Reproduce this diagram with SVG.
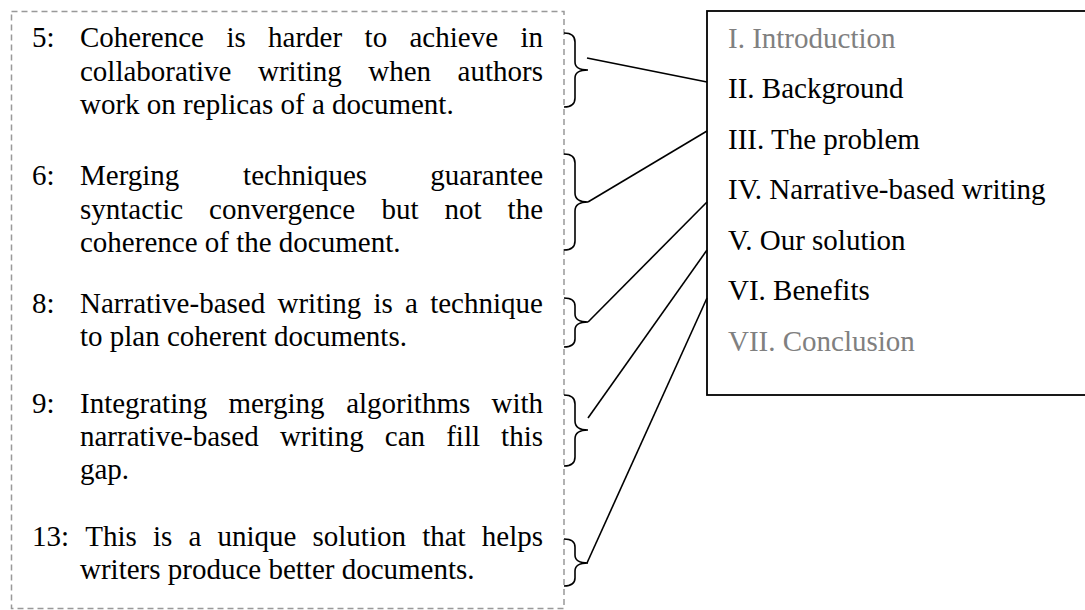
<svg xmlns="http://www.w3.org/2000/svg" width="1085" height="610" viewBox="0 0 1085 610">
<style>
text{font-family:"Liberation Serif","Times New Roman",serif;font-size:29px;fill:#000}
.gray{fill:#808080}
.brace{fill:none;stroke:#000;stroke-width:1.6}
.conn{fill:none;stroke:#000;stroke-width:1.6}
.frame{fill:none;stroke:#999;stroke-width:1.5;stroke-dasharray:6 4}
.outline{fill:#fff;stroke:#000;stroke-width:1.8}
</style>
<rect width="1085" height="610" fill="#fff"/>
<g id="claims-frame"><rect class="frame" x="11.5" y="11.5" width="552.5" height="597"/></g>
<g id="claim-5">
<text x="32" y="47">5:</text>
<text y="47"><tspan x="80">Coherence</tspan><tspan x="226.4">is</tspan><tspan x="268.1">harder</tspan><tspan x="364.6">to</tspan><tspan x="409.5">achieve</tspan><tspan x="520.4">in</tspan></text>
<text y="80.5"><tspan x="80">collaborative</tspan><tspan x="258">writing</tspan><tspan x="368.3">when</tspan><tspan x="457.6">authors</tspan></text>
<text x="80" y="114">work on replicas of a document.</text>
<path class="brace" d="M564,33 Q575,33 575,42 L575,62 Q575,70 588,70 Q575,70 575,78 L575,98 Q575,107 564,107"/>
</g>
<g id="claim-6">
<text x="32" y="185">6:</text>
<text y="185"><tspan x="80">Merging</tspan><tspan x="243.1">techniques</tspan><tspan x="430.3">guarantee</tspan></text>
<text y="218.5"><tspan x="80">syntactic</tspan><tspan x="209.1">convergence</tspan><tspan x="381.5">but</tspan><tspan x="444.6">not</tspan><tspan x="507.6">the</tspan></text>
<text x="80" y="252">coherence of the document.</text>
<path class="brace" d="M564,154 Q575,154 575,163 L575,193 Q575,202 588,202 Q575,202 575,211 L575,241 Q575,250 564,250"/>
</g>
<g id="claim-8">
<text x="32" y="313">8:</text>
<text y="313"><tspan x="80">Narrative-based</tspan><tspan x="277.5">writing</tspan><tspan x="373.5">is</tspan><tspan x="405.1">a</tspan><tspan x="430.2">technique</tspan></text>
<text x="80" y="346">to plan coherent documents.</text>
<path class="brace" d="M564,298 Q575,298 575,306 L575,314 Q575,322 588,322 Q575,322 575,330 L575,339 Q575,347 564,347"/>
</g>
<g id="claim-9">
<text x="32" y="413">9:</text>
<text y="413"><tspan x="80">Integrating</tspan><tspan x="228.4">merging</tspan><tspan x="346.2">algorithms</tspan><tspan x="491.5">with</tspan></text>
<text y="446"><tspan x="80">narrative-based</tspan><tspan x="279.9">writing</tspan><tspan x="384.8">can</tspan><tspan x="446.2">fill</tspan><tspan x="501.1">this</tspan></text>
<text x="80" y="479">gap.</text>
<path class="brace" d="M564,395 Q575,395 575,404 L575,421 Q575,430 588,430 Q575,430 575,439 L575,457 Q575,466 564,466"/>
</g>
<g id="claim-13">
<text y="546"><tspan x="32">13:</tspan><tspan x="85.2">This</tspan><tspan x="152.9">is</tspan><tspan x="188.4">a</tspan><tspan x="217.4">unique</tspan><tspan x="312.5">solution</tspan><tspan x="422.2">that</tspan><tspan x="481.8">helps</tspan></text>
<text x="80" y="579">writers produce better documents.</text>
<path class="brace" d="M564,539 Q575,539 575,547 L575,555 Q575,563 588,563 Q575,563 575,571 L575,578 Q575,586 564,586"/>
</g>
<g id="outline">
<rect class="outline" x="707" y="11" width="382" height="384"/>
<text class="gray" x="728" y="47.5">I. Introduction</text>
<text x="728" y="98">II. Background</text>
<text x="728" y="148.5">III. The problem</text>
<text x="728" y="199">IV. Narrative-based writing</text>
<text x="728" y="249.5">V. Our solution</text>
<text x="728" y="300">VI. Benefits</text>
<text class="gray" x="728" y="350.5">VII. Conclusion</text>
</g>
<g id="connectors">
<line class="conn" x1="587" y1="58" x2="707" y2="82"/>
<line class="conn" x1="588" y1="202" x2="707" y2="131"/>
<line class="conn" x1="588" y1="322" x2="707" y2="202"/>
<line class="conn" x1="588" y1="418" x2="707" y2="250"/>
<line class="conn" x1="587" y1="563" x2="707" y2="298"/>
</g>
</svg>
